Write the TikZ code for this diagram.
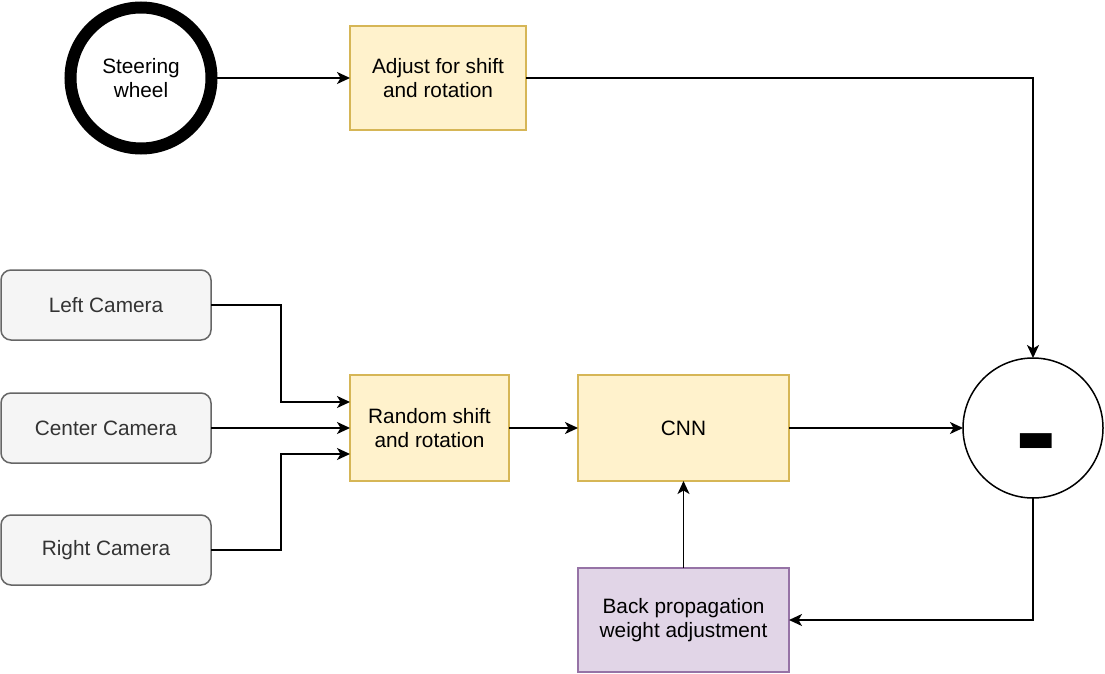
\documentclass[tikz,border=0pt]{standalone}
\usepackage{fontspec}
\setmainfont{Liberation Sans}
\usetikzlibrary{arrows.meta}
\definecolor{yfill}{HTML}{FFF2CC}
\definecolor{ydraw}{HTML}{D6B656}
\definecolor{gfill}{HTML}{F5F5F5}
\definecolor{gdraw}{HTML}{666666}
\definecolor{gtext}{HTML}{333333}
\definecolor{pfill}{HTML}{E1D5E7}
\definecolor{pdraw}{HTML}{9673A6}
\tikzset{
  base/.style={inner sep=0pt, outer sep=0pt, align=center, font=\fontsize{20.8}{24}\selectfont, line width=1.5pt},
  ybox/.style={base, rectangle, draw=ydraw, fill=yfill},
  pbox/.style={base, rectangle, draw=pdraw, fill=pfill},
  cam/.style={base, rectangle, rounded corners=10pt, draw=gdraw, fill=gfill, text=gtext, minimum width=210pt, minimum height=70pt},
  conn/.style={line width=1.6pt, -{Stealth[length=13pt,width=12pt,inset=3.5pt]}},
}
\begin{document}
\begin{tikzpicture}[x=1pt,y=-1pt]
\useasboundingbox (0,0) rectangle (1105,674);
\node[base, circle, draw=black, line width=12pt, fill=white, minimum size=141pt] (sw) at (141,78) {Steering\\wheel};
\node[ybox, minimum width=176pt, minimum height=104pt] (adj) at (438,78) {Adjust for shift\\and rotation};
\node[cam] (lc) at (106,305) {Left Camera};
\node[cam] (cc) at (106,428) {Center Camera};
\node[cam] (rc) at (106,550) {Right Camera};
\node[ybox, minimum width=159pt, minimum height=106pt] (rs) at (429.5,428) {Random shift\\and rotation};
\node[ybox, minimum width=211pt, minimum height=106pt] (cnn) at (683.5,428) {CNN};
\node[pbox, minimum width=211pt, minimum height=104pt] (bp) at (683.5,620) {Back propagation\\weight adjustment};
\node[base, circle, draw=black, fill=white, minimum size=140pt] (minus) at (1033,428) {};
\node[inner sep=0pt, anchor=base, font=\fontsize{125}{125}\selectfont\bfseries] (mtext) at (1036,473) {-};
\draw[conn] (sw) -- (adj);
\draw[conn] (adj.east) -| (minus.north);
\draw[conn] (lc.east) -- ++(70,0) |- ([yshift=26pt]rs.west);
\draw[conn] (cc.east) -- (rs.west);
\draw[conn] (rc.east) -- ++(70,0) |- ([yshift=-26pt]rs.west);
\draw[conn] (rs) -- (cnn);
\draw[conn] (cnn) -- (minus);
\draw[conn] (minus.south) |- (bp.east);
\draw[conn] (bp) -- (cnn);
\end{tikzpicture}
\end{document}
